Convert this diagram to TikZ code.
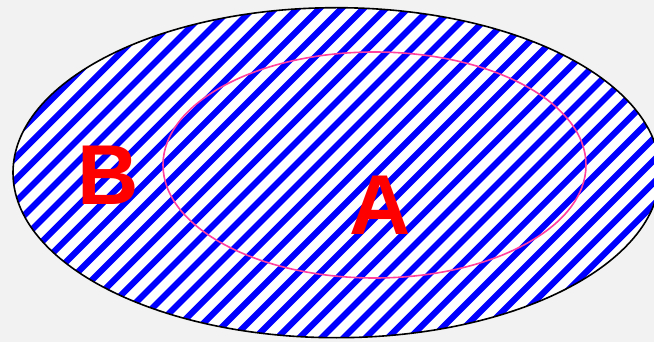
\documentclass[tikz,border=0pt]{standalone}
\usepackage{fontspec}
\setmainfont{Liberation Sans}
\definecolor{bgray}{RGB}{242,242,242}
\definecolor{hatchblue}{RGB}{0,0,255}
\definecolor{innerpink}{RGB}{255,64,160}
\definecolor{letterred}{RGB}{255,0,0}
\tikzset{
  hatchline/.style={hatchblue, line width=6.2pt},
  outerline/.style={black, line width=1.6pt},
  innerline/.style={innerpink, line width=1.6pt},
  setletter/.style={letterred, inner sep=0pt, anchor=base west, font=\fontsize{85}{85}\selectfont\bfseries}
}
\begin{document}
\begin{tikzpicture}[x=1pt,y=-1pt]
  \fill[bgray] (0,0) rectangle (654,342);
  \useasboundingbox (0,0) rectangle (654,342);
  \begin{scope}
    \clip (336.5,172.7) ellipse [x radius=323.5pt, y radius=165pt];
    \fill[white] (0,0) rectangle (660,342);
    \foreach \k in {0,...,47} {
      \draw[hatchline] ({-3.6+22.1*\k+60},-60) -- ({-3.6+22.1*\k-420},420);
    }
  \end{scope}
  \draw[outerline] (336.5,172.7) ellipse [x radius=323.5pt, y radius=165pt];
  \draw[innerline] (374.5,165) ellipse [x radius=211.5pt, y radius=113pt];
  \node[setletter] (B) at (77,205) {B};
  \node[setletter] (A) at (349,235) {A};
\end{tikzpicture}
\end{document}
